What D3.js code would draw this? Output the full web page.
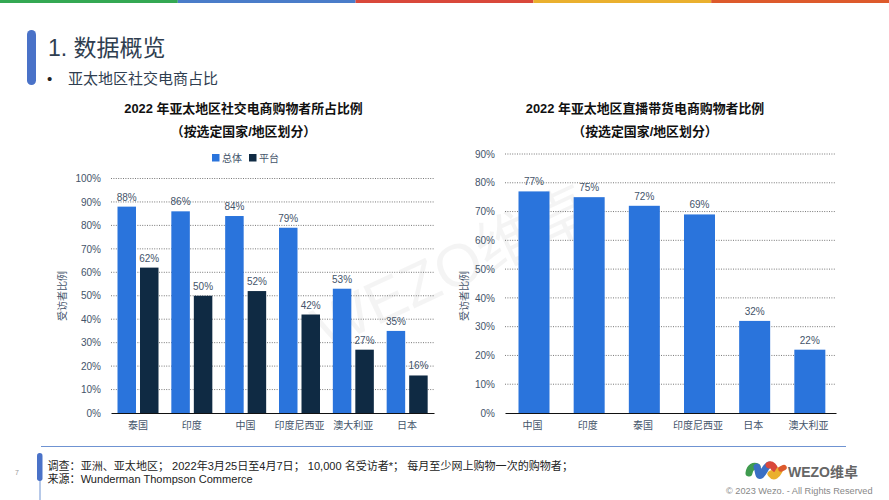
<!DOCTYPE html>
<html>
<head>
<meta charset="utf-8">
<script src="https://cdn.jsdelivr.net/npm/d3@7"></script>
<style>
  html, body { margin: 0; padding: 0; background: #fff; }
  svg { display: block; }
  text { font-family: "Liberation Sans", "Noto Sans CJK SC", sans-serif; }
</style>
</head>
<body>
<div id="chart"></div>
<script>
// left chart
const leftCategories = ["泰国", "印度", "中国", "印度尼西亚", "澳大利亚", "日本"];
const leftOverall = [88, 86, 84, 79, 53, 35];
const leftPlatform = [62, 50, 52, 42, 27, 16];
const leftTicks = [0, 10, 20, 30, 40, 50, 60, 70, 80, 90, 100];

// right chart
const rightCategories = ["中国", "印度", "泰国", "印度尼西亚", "日本", "澳大利亚"];
const rightValues = [77, 75, 72, 69, 32, 22];
const rightTicks = [0, 10, 20, 30, 40, 50, 60, 70, 80, 90];

const topColors = ["#34a853", "#4a7cc9", "#d9483b", "#eab02e", "#dd5a2c"];

const BLUE = "#2a74dc";
const NAVY = "#0f2a43";
const GREY = "#44546a";

const W = 889, H = 500;
const svg = d3.select("#chart").append("svg")
  .attr("width", W).attr("height", H)
  .attr("viewBox", `0 0 ${W} ${H}`);

// top colour strip
const stripX = d3.scaleBand().domain(d3.range(topColors.length)).range([0, W]);
svg.selectAll("rect.strip")
  .data(topColors)
  .join("rect")
  .attr("class", "strip")
  .attr("x", (d, i) => stripX(i))
  .attr("y", 0)
  .attr("width", stripX.bandwidth())
  .attr("height", 3)
  .attr("fill", (d) => d);

// header
svg.append("rect")
  .attr("x", 27).attr("y", 30).attr("width", 9).attr("height", 55).attr("rx", 4.5)
  .attr("fill", "#4a72c8");
svg.append("text").attr("x", 48).attr("y", 56)
  .attr("font-size", 23).attr("fill", "#2f3e50").text("1. 数据概览");
svg.append("text").attr("x", 47).attr("y", 84)
  .attr("font-size", 15).attr("fill", "#222").text("•");
svg.append("text").attr("x", 68).attr("y", 84)
  .attr("font-size", 15).attr("fill", "#2f3e50").text("亚太地区社交电商占比");

// watermark
svg.append("text")
  .attr("transform", "translate(325,350) rotate(-25)")
  .attr("font-size", 60)
  .attr("fill", "#000").attr("fill-opacity", 0.045)
  .text("WEZO维卓");

function drawPanel(o) {
  const x = d3.scaleBand().domain(o.categories).range([o.x0, o.x1]);
  const y = d3.scaleLinear().domain([0, o.max]).range([413, o.yTop]);
  const g = svg.append("g");

  // grid
  g.selectAll("line.grid")
    .data(o.ticks.filter((d) => d > 0))
    .join("line")
    .attr("class", "grid")
    .attr("x1", o.x0).attr("x2", o.x1)
    .attr("y1", (d) => y(d)).attr("y2", (d) => y(d))
    .attr("stroke", "#555")
    .attr("stroke-width", 0.8)
    .attr("stroke-dasharray", "1 1.4");

  // y axis
  const yAxis = g.append("g")
    .attr("transform", `translate(${o.x0},0)`)
    .call(d3.axisLeft(y).tickValues(o.ticks).tickFormat((d) => d + "%").tickSize(0).tickPadding(10));
  yAxis.select("path").remove();
  yAxis.selectAll("text")
    .attr("font-family", "'Liberation Sans', 'Noto Sans CJK SC', sans-serif")
    .style("font-size", "10px")
    .style("fill", GREY);

  // bars + labels
  o.series.forEach((s) => {
    g.selectAll(null)
      .data(s.values)
      .join("rect")
      .attr("x", (d, i) => x(o.categories[i]) + s.offset)
      .attr("y", (d) => y(d))
      .attr("width", s.width)
      .attr("height", (d) => 413 - y(d))
      .attr("fill", s.color);
    g.selectAll(null)
      .data(s.values)
      .join("text")
      .attr("x", (d, i) => x(o.categories[i]) + s.offset + s.width / 2)
      .attr("y", (d) => y(d) - 6)
      .attr("text-anchor", "middle")
      .attr("font-size", 10)
      .attr("fill", GREY)
      .text((d) => d + "%");
  });

  // x axis
  const xAxis = g.append("g")
    .attr("transform", "translate(0,413)")
    .call(d3.axisBottom(x).tickSize(0).tickPadding(9));
  xAxis.select("path").attr("stroke", "#111").attr("stroke-width", 1.2);
  xAxis.selectAll("text")
    .attr("font-family", "'Liberation Sans', 'Noto Sans CJK SC', sans-serif")
    .style("font-size", "10px")
    .style("fill", GREY);

  // y title
  g.append("text")
    .attr("transform", `translate(${o.titleX},296) rotate(-90)`)
    .attr("text-anchor", "middle")
    .attr("font-size", 10)
    .attr("fill", GREY)
    .text("受访者比例");

  // chart title
  o.title.forEach((line, i) => {
    g.append("text")
      .attr("x", o.titleCx)
      .attr("y", 113 + i * 22.5)
      .attr("text-anchor", "middle")
      .attr("font-size", 12.9)
      .attr("font-weight", 700)
      .attr("fill", "#111")
      .text(line);
  });
}

drawPanel({
  categories: leftCategories,
  ticks: leftTicks,
  max: 100,
  yTop: 178.5,
  x0: 111,
  x1: 434,
  titleX: 66,
  titleCx: 243.5,
  title: ["2022 年亚太地区社交电商购物者所占比例", "（按选定国家/地区划分）"],
  series: [
    { values: leftOverall, color: BLUE, offset: 6.5, width: 18.5 },
    { values: leftPlatform, color: NAVY, offset: 29, width: 18.5 },
  ],
});

drawPanel({
  categories: rightCategories,
  ticks: rightTicks,
  max: 90,
  yTop: 154,
  x0: 505,
  x1: 836,
  titleX: 468,
  titleCx: 645,
  title: ["2022 年亚太地区直播带货电商购物者比例", "（按选定国家/地区划分）"],
  series: [
    { values: rightValues, color: BLUE, offset: 13.5, width: 31 },
  ],
});

// legend
const legendItems = [
  { label: "总体", color: BLUE, x: 212 },
  { label: "平台", color: NAVY, x: 249 },
];
legendItems.forEach((d) => {
  svg.append("rect").attr("x", d.x).attr("y", 154).attr("width", 7.5).attr("height", 7.5).attr("fill", d.color);
  svg.append("text").attr("x", d.x + 10).attr("y", 161.5).attr("font-size", 10).attr("fill", GREY).text(d.label);
});

// footer
svg.append("line").attr("x1", 41).attr("x2", 846).attr("y1", 446.5).attr("y2", 446.5)
  .attr("stroke", "#6f93d2").attr("stroke-width", 1);
svg.append("line").attr("x1", 40).attr("x2", 40).attr("y1", 478).attr("y2", 500)
  .attr("stroke", "#6f93d2").attr("stroke-width", 1);
svg.append("rect").attr("x", 37).attr("y", 453).attr("width", 5.5).attr("height", 28).attr("rx", 2.7)
  .attr("fill", "#4a72c8");
svg.append("text").attr("x", 15).attr("y", 475).attr("font-size", 7).attr("fill", "#999").text("7");
svg.append("text").attr("x", 47.5).attr("y", 469.5)
  .attr("font-size", 11.05).attr("fill", "#222")
  .text("调查：亚洲、亚太地区； 2022年3月25日至4月7日； 10,000 名受访者*； 每月至少网上购物一次的购物者；");
svg.append("text").attr("x", 47.5).attr("y", 482.5)
  .attr("font-size", 11.05).attr("fill", "#222")
  .text("来源：Wunderman Thompson Commerce");

// logo
const logo = svg.append("g").attr("fill", "none").attr("stroke-width", 7).attr("stroke-linecap", "round");
logo.append("path").attr("d", "M749,473 C750,467 754,465 757,467").attr("stroke", "#3f9b4f");
logo.append("path").attr("d", "M757,467 C759,472 758,477 761,475 C764,472 766,466 769,465").attr("stroke", "#3a6fc4");
logo.append("path").attr("d", "M769,465 C772,464 774,467 775,470").attr("stroke", "#d9483b");
logo.append("path").attr("d", "M771,474 C774,478 777,475 779,471").attr("stroke", "#eab02e");
logo.append("path").attr("d", "M781,469 L784,467.5").attr("stroke", "#dd5a2c").attr("stroke-width", 5.5);
svg.append("text").attr("x", 788).attr("y", 476.5).attr("font-size", 14).attr("font-weight", 700).attr("fill", "#666").text("WEZO维卓");
svg.append("text").attr("x", 726).attr("y", 494).attr("font-size", 9.2).attr("fill", "#888").text("© 2023 Wezo. - All Rights Reserved");
</script>
</body>
</html>
